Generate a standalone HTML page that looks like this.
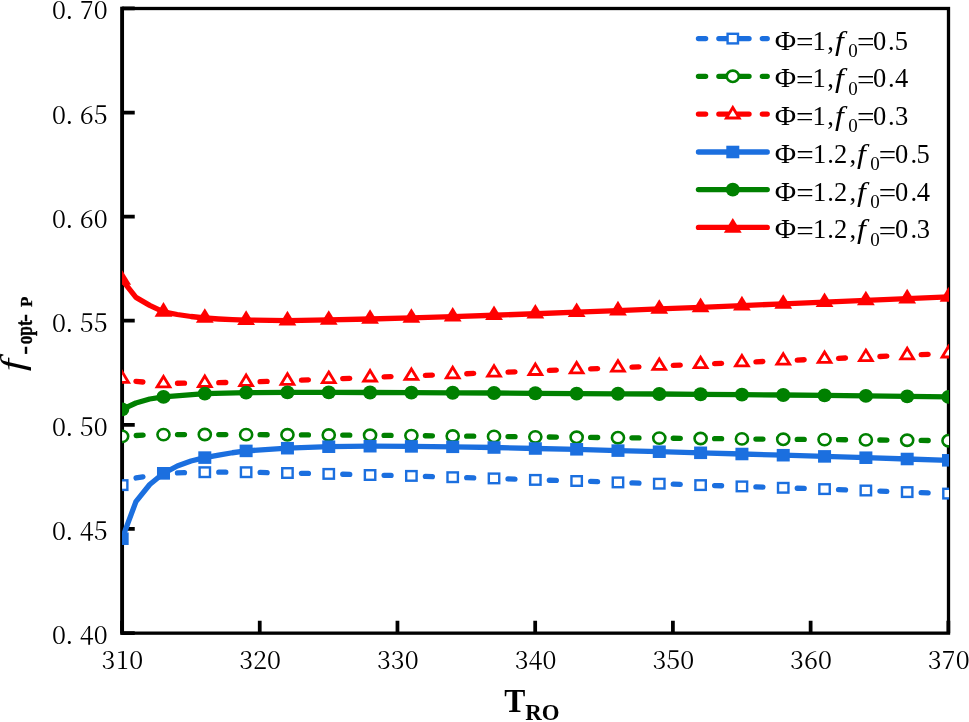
<!DOCTYPE html>
<html lang="en"><head><meta charset="utf-8"><title>f-opt-P vs T RO</title>
<style>
html,body{margin:0;padding:0;background:#fff}
body{width:969px;height:722px;overflow:hidden}
svg{display:block}
.tk{font-family:'Noto Serif CJK SC','Liberation Serif',serif;font-size:25px;font-weight:400;fill:#000}
.lg{font-family:'Liberation Serif',serif;font-size:26.5px;fill:#000}
.sb{font-size:23px;font-weight:bold;stroke:#000;stroke-width:0.45px}
</style></head><body>
<svg width="969" height="722" viewBox="0 0 969 722">
<rect width="969" height="722" fill="#fff"/>
<defs><clipPath id="pc"><rect x="122.05" y="8.5" width="827" height="624.65"/></clipPath></defs>
<rect x="122.17" y="8.5" width="826.33" height="624.65" fill="none" stroke="#000" stroke-width="3.3"/>
<path d="M122.17,6.85 V634.8" stroke="#000" stroke-width="3.74"/>
<path d="M122.17,633.05 h12.57 M122.17,528.94 h12.57 M122.17,424.83 h12.57 M122.17,320.72 h12.57 M122.17,216.62 h12.57 M122.17,112.51 h12.57 M122.17,8.4 h12.57 M122.02,633.15 v-12.35 M259.74,633.15 v-12.35 M397.46,633.15 v-12.35 M535.19,633.15 v-12.35 M672.91,633.15 v-12.35 M810.63,633.15 v-12.35 M948.35,633.15 v-12.35" stroke="#000" stroke-width="3.75" fill="none"/>
<g clip-path="url(#pc)">
<path d="M136.05,477.98 L142.95,476.83 M177.48,472.86 L184.48,472.69 M218.8,472.2 L225.8,472.2 M260.12,472.47 L267.12,472.61 M301.43,473.3 L308.43,473.46 M342.75,474.27 L349.75,474.46 M384.07,475.3 L391.06,475.46 M425.38,476.34 L432.38,476.56 M466.7,477.61 L473.69,477.81 M508.01,478.91 L515,479.16 M549.33,480.27 L556.33,480.46 M590.64,481.47 L597.64,481.71 M631.96,482.84 L638.96,483.06 M673.28,484.17 L680.27,484.41 M714.59,485.54 L721.59,485.76 M755.91,486.87 L762.91,487.11 M797.23,488.24 L804.22,488.46 M838.54,489.57 L845.54,489.81 M879.86,491.04 L886.85,491.31 M921.17,492.61 L928.17,492.86" fill="none" stroke="#1b6fdf" stroke-width="5.3" stroke-linecap="round" stroke-linejoin="round"/>
<rect x="116.97" y="480.3" width="10.4" height="9.6" fill="#fff" stroke="#1b6fdf" stroke-width="2.4"/>
<rect x="158.29" y="468.4" width="10.4" height="9.6" fill="#fff" stroke="#1b6fdf" stroke-width="2.4"/>
<rect x="199.6" y="467.4" width="10.4" height="9.6" fill="#fff" stroke="#1b6fdf" stroke-width="2.4"/>
<rect x="240.92" y="467.4" width="10.4" height="9.6" fill="#fff" stroke="#1b6fdf" stroke-width="2.4"/>
<rect x="282.24" y="468.2" width="10.4" height="9.6" fill="#fff" stroke="#1b6fdf" stroke-width="2.4"/>
<rect x="323.55" y="469.1" width="10.4" height="9.6" fill="#fff" stroke="#1b6fdf" stroke-width="2.4"/>
<rect x="364.87" y="470.2" width="10.4" height="9.6" fill="#fff" stroke="#1b6fdf" stroke-width="2.4"/>
<rect x="406.19" y="471.1" width="10.4" height="9.6" fill="#fff" stroke="#1b6fdf" stroke-width="2.4"/>
<rect x="447.5" y="472.4" width="10.4" height="9.6" fill="#fff" stroke="#1b6fdf" stroke-width="2.4"/>
<rect x="488.82" y="473.6" width="10.4" height="9.6" fill="#fff" stroke="#1b6fdf" stroke-width="2.4"/>
<rect x="530.13" y="475.1" width="10.4" height="9.6" fill="#fff" stroke="#1b6fdf" stroke-width="2.4"/>
<rect x="571.45" y="476.2" width="10.4" height="9.6" fill="#fff" stroke="#1b6fdf" stroke-width="2.4"/>
<rect x="612.77" y="477.6" width="10.4" height="9.6" fill="#fff" stroke="#1b6fdf" stroke-width="2.4"/>
<rect x="654.08" y="478.9" width="10.4" height="9.6" fill="#fff" stroke="#1b6fdf" stroke-width="2.4"/>
<rect x="695.4" y="480.3" width="10.4" height="9.6" fill="#fff" stroke="#1b6fdf" stroke-width="2.4"/>
<rect x="736.72" y="481.6" width="10.4" height="9.6" fill="#fff" stroke="#1b6fdf" stroke-width="2.4"/>
<rect x="778.03" y="483" width="10.4" height="9.6" fill="#fff" stroke="#1b6fdf" stroke-width="2.4"/>
<rect x="819.35" y="484.3" width="10.4" height="9.6" fill="#fff" stroke="#1b6fdf" stroke-width="2.4"/>
<rect x="860.67" y="485.7" width="10.4" height="9.6" fill="#fff" stroke="#1b6fdf" stroke-width="2.4"/>
<rect x="901.98" y="487.3" width="10.4" height="9.6" fill="#fff" stroke="#1b6fdf" stroke-width="2.4"/>
<rect x="943.3" y="488.8" width="10.4" height="9.6" fill="#fff" stroke="#1b6fdf" stroke-width="2.4"/>
<path d="M136.14,435.49 L143.14,435.19 M177.49,434.57 L184.49,434.55 M218.8,434.55 L225.8,434.58 M260.12,434.7 L267.12,434.73 M301.44,434.87 L308.44,434.9 M342.75,435.08 L349.75,435.13 M384.07,435.37 L391.07,435.43 M425.38,435.74 L432.38,435.8 M466.7,436.14 L473.7,436.2 M508.02,436.55 L515.02,436.63 M549.33,437 L556.33,437.08 M590.65,437.44 L597.65,437.5 M631.97,437.84 L638.97,437.9 M673.28,438.24 L680.28,438.3 M714.6,438.64 L721.6,438.7 M755.92,439.04 L762.92,439.1 M797.23,439.4 L804.23,439.45 M838.55,439.7 L845.55,439.75 M879.87,440.02 L886.87,440.08 M921.18,440.4 L928.18,440.48" fill="none" stroke="#008000" stroke-width="5.3" stroke-linecap="round" stroke-linejoin="round"/>
<ellipse cx="122.17" cy="436.35" rx="6.05" ry="5.65" fill="#fff" stroke="#008000" stroke-width="2.6"/>
<ellipse cx="163.49" cy="434.6" rx="6.05" ry="5.65" fill="#fff" stroke="#008000" stroke-width="2.6"/>
<ellipse cx="204.8" cy="434.5" rx="6.05" ry="5.65" fill="#fff" stroke="#008000" stroke-width="2.6"/>
<ellipse cx="246.12" cy="434.65" rx="6.05" ry="5.65" fill="#fff" stroke="#008000" stroke-width="2.6"/>
<ellipse cx="287.44" cy="434.8" rx="6.05" ry="5.65" fill="#fff" stroke="#008000" stroke-width="2.6"/>
<ellipse cx="328.75" cy="435" rx="6.05" ry="5.65" fill="#fff" stroke="#008000" stroke-width="2.6"/>
<ellipse cx="370.07" cy="435.25" rx="6.05" ry="5.65" fill="#fff" stroke="#008000" stroke-width="2.6"/>
<ellipse cx="411.39" cy="435.6" rx="6.05" ry="5.65" fill="#fff" stroke="#008000" stroke-width="2.6"/>
<ellipse cx="452.7" cy="436" rx="6.05" ry="5.65" fill="#fff" stroke="#008000" stroke-width="2.6"/>
<ellipse cx="494.02" cy="436.4" rx="6.05" ry="5.65" fill="#fff" stroke="#008000" stroke-width="2.6"/>
<ellipse cx="535.34" cy="436.85" rx="6.05" ry="5.65" fill="#fff" stroke="#008000" stroke-width="2.6"/>
<ellipse cx="576.65" cy="437.3" rx="6.05" ry="5.65" fill="#fff" stroke="#008000" stroke-width="2.6"/>
<ellipse cx="617.97" cy="437.7" rx="6.05" ry="5.65" fill="#fff" stroke="#008000" stroke-width="2.6"/>
<ellipse cx="659.28" cy="438.1" rx="6.05" ry="5.65" fill="#fff" stroke="#008000" stroke-width="2.6"/>
<ellipse cx="700.6" cy="438.5" rx="6.05" ry="5.65" fill="#fff" stroke="#008000" stroke-width="2.6"/>
<ellipse cx="741.92" cy="438.9" rx="6.05" ry="5.65" fill="#fff" stroke="#008000" stroke-width="2.6"/>
<ellipse cx="783.23" cy="439.3" rx="6.05" ry="5.65" fill="#fff" stroke="#008000" stroke-width="2.6"/>
<ellipse cx="824.55" cy="439.6" rx="6.05" ry="5.65" fill="#fff" stroke="#008000" stroke-width="2.6"/>
<ellipse cx="865.87" cy="439.9" rx="6.05" ry="5.65" fill="#fff" stroke="#008000" stroke-width="2.6"/>
<ellipse cx="907.18" cy="440.25" rx="6.05" ry="5.65" fill="#fff" stroke="#008000" stroke-width="2.6"/>
<ellipse cx="948.5" cy="440.7" rx="6.05" ry="5.65" fill="#fff" stroke="#008000" stroke-width="2.6"/>
<path d="M135.96,381.3 L142.93,382.01 M177.49,383.26 L184.49,383.2 M218.8,382.66 L225.8,382.49 M260.11,381.59 L267.11,381.39 M301.42,380.22 L308.42,379.94 M342.74,378.56 L349.74,378.29 M384.06,376.96 L391.05,376.69 M425.38,375.36 L432.37,375.09 M466.69,373.74 L473.69,373.46 M508.01,372.09 L515,371.81 M549.32,370.46 L556.32,370.19 M590.64,368.82 L597.63,368.54 M631.96,367.11 L638.95,366.81 M673.27,365.36 L680.27,365.06 M714.59,363.59 L721.58,363.29 M755.9,361.81 L762.9,361.51 M797.22,360.06 L804.22,359.76 M838.54,358.29 L845.53,357.99 M879.85,356.49 L886.85,356.19 M921.17,354.69 L928.16,354.39" fill="none" stroke="#ff0000" stroke-width="5.3" stroke-linecap="round" stroke-linejoin="round"/>
<polygon points="122.17,371.9 128.57,382.4 115.77,382.4" fill="#fff" stroke="#ff0000" stroke-width="2.8" stroke-linejoin="miter"/>
<polygon points="163.49,376.4 169.89,386.9 157.09,386.9" fill="#fff" stroke="#ff0000" stroke-width="2.8" stroke-linejoin="miter"/>
<polygon points="204.8,376 211.2,386.5 198.4,386.5" fill="#fff" stroke="#ff0000" stroke-width="2.8" stroke-linejoin="miter"/>
<polygon points="246.12,375 252.52,385.5 239.72,385.5" fill="#fff" stroke="#ff0000" stroke-width="2.8" stroke-linejoin="miter"/>
<polygon points="287.44,373.8 293.84,384.3 281.04,384.3" fill="#fff" stroke="#ff0000" stroke-width="2.8" stroke-linejoin="miter"/>
<polygon points="328.75,372.1 335.15,382.6 322.35,382.6" fill="#fff" stroke="#ff0000" stroke-width="2.8" stroke-linejoin="miter"/>
<polygon points="370.07,370.5 376.47,381 363.67,381" fill="#fff" stroke="#ff0000" stroke-width="2.8" stroke-linejoin="miter"/>
<polygon points="411.39,368.9 417.79,379.4 404.99,379.4" fill="#fff" stroke="#ff0000" stroke-width="2.8" stroke-linejoin="miter"/>
<polygon points="452.7,367.3 459.1,377.8 446.3,377.8" fill="#fff" stroke="#ff0000" stroke-width="2.8" stroke-linejoin="miter"/>
<polygon points="494.02,365.65 500.42,376.15 487.62,376.15" fill="#fff" stroke="#ff0000" stroke-width="2.8" stroke-linejoin="miter"/>
<polygon points="535.34,364 541.74,374.5 528.94,374.5" fill="#fff" stroke="#ff0000" stroke-width="2.8" stroke-linejoin="miter"/>
<polygon points="576.65,362.4 583.05,372.9 570.25,372.9" fill="#fff" stroke="#ff0000" stroke-width="2.8" stroke-linejoin="miter"/>
<polygon points="617.97,360.7 624.37,371.2 611.57,371.2" fill="#fff" stroke="#ff0000" stroke-width="2.8" stroke-linejoin="miter"/>
<polygon points="659.28,358.95 665.68,369.45 652.88,369.45" fill="#fff" stroke="#ff0000" stroke-width="2.8" stroke-linejoin="miter"/>
<polygon points="700.6,357.2 707,367.7 694.2,367.7" fill="#fff" stroke="#ff0000" stroke-width="2.8" stroke-linejoin="miter"/>
<polygon points="741.92,355.4 748.32,365.9 735.52,365.9" fill="#fff" stroke="#ff0000" stroke-width="2.8" stroke-linejoin="miter"/>
<polygon points="783.23,353.65 789.63,364.15 776.83,364.15" fill="#fff" stroke="#ff0000" stroke-width="2.8" stroke-linejoin="miter"/>
<polygon points="824.55,351.9 830.95,362.4 818.15,362.4" fill="#fff" stroke="#ff0000" stroke-width="2.8" stroke-linejoin="miter"/>
<polygon points="865.87,350.1 872.27,360.6 859.47,360.6" fill="#fff" stroke="#ff0000" stroke-width="2.8" stroke-linejoin="miter"/>
<polygon points="907.18,348.3 913.58,358.8 900.78,358.8" fill="#fff" stroke="#ff0000" stroke-width="2.8" stroke-linejoin="miter"/>
<polygon points="948.5,346.5 954.9,357 942.1,357" fill="#fff" stroke="#ff0000" stroke-width="2.8" stroke-linejoin="miter"/>
<path d="M122.17,538.7 L135.94,501.6 L149.71,484.5 L163.49,473.3 L177.26,466 L191.03,461 L204.8,457.6 L218.58,455.1 L232.35,452.75 L246.12,450.9 L287.44,448.2 L328.75,446.7 L370.07,446.2 L411.39,446.4 L452.7,446.8 L494.02,447.5 L535.34,448.5 L576.65,449.3 L617.97,450.6 L659.28,451.7 L700.6,452.8 L741.92,454 L783.23,455.2 L824.55,456.4 L865.87,457.7 L907.18,459 L948.5,460.3" fill="none" stroke="#1b6fdf" stroke-width="5.3" stroke-linejoin="round" stroke-linecap="butt"/>
<rect x="115.67" y="532.43" width="13" height="12.55" fill="#1b6fdf"/>
<rect x="156.99" y="467.03" width="13" height="12.55" fill="#1b6fdf"/>
<rect x="198.3" y="451.33" width="13" height="12.55" fill="#1b6fdf"/>
<rect x="239.62" y="444.62" width="13" height="12.55" fill="#1b6fdf"/>
<rect x="280.94" y="441.93" width="13" height="12.55" fill="#1b6fdf"/>
<rect x="322.25" y="440.43" width="13" height="12.55" fill="#1b6fdf"/>
<rect x="363.57" y="439.93" width="13" height="12.55" fill="#1b6fdf"/>
<rect x="404.89" y="440.12" width="13" height="12.55" fill="#1b6fdf"/>
<rect x="446.2" y="440.53" width="13" height="12.55" fill="#1b6fdf"/>
<rect x="487.52" y="441.23" width="13" height="12.55" fill="#1b6fdf"/>
<rect x="528.84" y="442.23" width="13" height="12.55" fill="#1b6fdf"/>
<rect x="570.15" y="443.03" width="13" height="12.55" fill="#1b6fdf"/>
<rect x="611.47" y="444.33" width="13" height="12.55" fill="#1b6fdf"/>
<rect x="652.78" y="445.43" width="13" height="12.55" fill="#1b6fdf"/>
<rect x="694.1" y="446.53" width="13" height="12.55" fill="#1b6fdf"/>
<rect x="735.42" y="447.73" width="13" height="12.55" fill="#1b6fdf"/>
<rect x="776.73" y="448.93" width="13" height="12.55" fill="#1b6fdf"/>
<rect x="818.05" y="450.12" width="13" height="12.55" fill="#1b6fdf"/>
<rect x="859.37" y="451.43" width="13" height="12.55" fill="#1b6fdf"/>
<rect x="900.68" y="452.73" width="13" height="12.55" fill="#1b6fdf"/>
<rect x="942" y="454.03" width="13" height="12.55" fill="#1b6fdf"/>
<path d="M122.17,409.4 L135.94,403 L149.71,399 L163.49,396.9 L204.8,393.6 L246.12,392.6 L287.44,392.4 L328.75,392.4 L370.07,392.5 L411.39,392.6 L452.7,392.8 L494.02,393 L535.34,393.3 L576.65,393.6 L617.97,393.8 L659.28,394 L700.6,394.3 L741.92,394.6 L783.23,395 L824.55,395.4 L865.87,395.9 L907.18,396.4 L948.5,396.9" fill="none" stroke="#008000" stroke-width="5.3" stroke-linejoin="round" stroke-linecap="butt"/>
<ellipse cx="122.17" cy="409.4" rx="7.1" ry="6.97" fill="#008000"/>
<ellipse cx="163.49" cy="396.9" rx="7.1" ry="6.97" fill="#008000"/>
<ellipse cx="204.8" cy="393.6" rx="7.1" ry="6.97" fill="#008000"/>
<ellipse cx="246.12" cy="392.6" rx="7.1" ry="6.97" fill="#008000"/>
<ellipse cx="287.44" cy="392.4" rx="7.1" ry="6.97" fill="#008000"/>
<ellipse cx="328.75" cy="392.4" rx="7.1" ry="6.97" fill="#008000"/>
<ellipse cx="370.07" cy="392.5" rx="7.1" ry="6.97" fill="#008000"/>
<ellipse cx="411.39" cy="392.6" rx="7.1" ry="6.97" fill="#008000"/>
<ellipse cx="452.7" cy="392.8" rx="7.1" ry="6.97" fill="#008000"/>
<ellipse cx="494.02" cy="393" rx="7.1" ry="6.97" fill="#008000"/>
<ellipse cx="535.34" cy="393.3" rx="7.1" ry="6.97" fill="#008000"/>
<ellipse cx="576.65" cy="393.6" rx="7.1" ry="6.97" fill="#008000"/>
<ellipse cx="617.97" cy="393.8" rx="7.1" ry="6.97" fill="#008000"/>
<ellipse cx="659.28" cy="394" rx="7.1" ry="6.97" fill="#008000"/>
<ellipse cx="700.6" cy="394.3" rx="7.1" ry="6.97" fill="#008000"/>
<ellipse cx="741.92" cy="394.6" rx="7.1" ry="6.97" fill="#008000"/>
<ellipse cx="783.23" cy="395" rx="7.1" ry="6.97" fill="#008000"/>
<ellipse cx="824.55" cy="395.4" rx="7.1" ry="6.97" fill="#008000"/>
<ellipse cx="865.87" cy="395.9" rx="7.1" ry="6.97" fill="#008000"/>
<ellipse cx="907.18" cy="396.4" rx="7.1" ry="6.97" fill="#008000"/>
<ellipse cx="948.5" cy="396.9" rx="7.1" ry="6.97" fill="#008000"/>
<path d="M122.17,279.9 L135.94,297.4 L149.71,305.4 L163.49,311.8 L177.26,314.5 L191.03,316.5 L204.8,318 L218.58,319 L232.35,319.7 L246.12,320.1 L287.44,320.6 L328.75,319.9 L370.07,319 L411.39,317.9 L452.7,316.65 L494.02,315.25 L535.34,313.75 L576.65,312.2 L617.97,310.6 L659.28,308.95 L700.6,307.3 L741.92,305.6 L783.23,303.9 L824.55,302.15 L865.87,300.4 L907.18,298.6 L948.5,296.8" fill="none" stroke="#ff0000" stroke-width="5.3" stroke-linejoin="round" stroke-linecap="butt"/>
<polygon points="122.17,270.17 131.07,284.77 113.27,284.77" fill="#ff0000"/>
<polygon points="163.49,302.07 172.39,316.67 154.59,316.67" fill="#ff0000"/>
<polygon points="204.8,308.27 213.7,322.87 195.9,322.87" fill="#ff0000"/>
<polygon points="246.12,310.37 255.02,324.97 237.22,324.97" fill="#ff0000"/>
<polygon points="287.44,310.87 296.34,325.47 278.54,325.47" fill="#ff0000"/>
<polygon points="328.75,310.17 337.65,324.77 319.85,324.77" fill="#ff0000"/>
<polygon points="370.07,309.27 378.97,323.87 361.17,323.87" fill="#ff0000"/>
<polygon points="411.39,308.17 420.29,322.77 402.49,322.77" fill="#ff0000"/>
<polygon points="452.7,306.92 461.6,321.52 443.8,321.52" fill="#ff0000"/>
<polygon points="494.02,305.52 502.92,320.12 485.12,320.12" fill="#ff0000"/>
<polygon points="535.34,304.02 544.24,318.62 526.44,318.62" fill="#ff0000"/>
<polygon points="576.65,302.47 585.55,317.07 567.75,317.07" fill="#ff0000"/>
<polygon points="617.97,300.87 626.87,315.47 609.07,315.47" fill="#ff0000"/>
<polygon points="659.28,299.22 668.18,313.82 650.38,313.82" fill="#ff0000"/>
<polygon points="700.6,297.57 709.5,312.17 691.7,312.17" fill="#ff0000"/>
<polygon points="741.92,295.87 750.82,310.47 733.02,310.47" fill="#ff0000"/>
<polygon points="783.23,294.17 792.13,308.77 774.33,308.77" fill="#ff0000"/>
<polygon points="824.55,292.42 833.45,307.02 815.65,307.02" fill="#ff0000"/>
<polygon points="865.87,290.67 874.77,305.27 856.97,305.27" fill="#ff0000"/>
<polygon points="907.18,288.87 916.08,303.47 898.28,303.47" fill="#ff0000"/>
<polygon points="948.5,287.07 957.4,301.67 939.6,301.67" fill="#ff0000"/>
</g>
<text class="tk" text-anchor="middle" x="58.95 69.35 86.75 100.65" y="644.05">0.40</text>
<text class="tk" text-anchor="middle" x="58.95 69.35 86.75 100.65" y="539.94">0.45</text>
<text class="tk" text-anchor="middle" x="58.95 69.35 86.75 100.65" y="435.83">0.50</text>
<text class="tk" text-anchor="middle" x="58.95 69.35 86.75 100.65" y="331.72">0.55</text>
<text class="tk" text-anchor="middle" x="58.95 69.35 86.75 100.65" y="227.62">0.60</text>
<text class="tk" text-anchor="middle" x="58.95 69.35 86.75 100.65" y="123.51">0.65</text>
<text class="tk" text-anchor="middle" x="58.95 69.35 86.75 100.65" y="19.4">0.70</text>
<text class="tk" text-anchor="middle" x="108.47 122.37 136.27" y="669.4">310</text>
<text class="tk" text-anchor="middle" x="246.19 260.09 273.99" y="669.4">320</text>
<text class="tk" text-anchor="middle" x="383.91 397.81 411.71" y="669.4">330</text>
<text class="tk" text-anchor="middle" x="521.64 535.54 549.44" y="669.4">340</text>
<text class="tk" text-anchor="middle" x="659.36 673.26 687.16" y="669.4">350</text>
<text class="tk" text-anchor="middle" x="797.08 810.98 824.88" y="669.4">360</text>
<text class="tk" text-anchor="middle" x="934.8 948.7 962.6" y="669.4">370</text>
<text y="711.9" style="font-family:'Liberation Serif',serif;font-weight:bold;font-size:34px"><tspan x="504.2" textLength="21.1" lengthAdjust="spacingAndGlyphs">T</tspan><tspan x="525.3" dy="8.5" style="font-size:23.5px" textLength="34.3" lengthAdjust="spacingAndGlyphs">RO</tspan></text>
<text transform="translate(23.6,371.2) rotate(-90)" style="font-family:'Liberation Serif',serif;font-size:34px"><tspan x="0" style="font-style:italic" textLength="12.4" lengthAdjust="spacingAndGlyphs">f</tspan><tspan x="16.4" dy="8.3" class="sb" textLength="8.8" lengthAdjust="spacingAndGlyphs">-</tspan><tspan x="27.0" class="sb" textLength="23.8" lengthAdjust="spacingAndGlyphs">opt</tspan><tspan x="49.4" class="sb">-</tspan><tspan x="64.1" style="font-size:17px;font-weight:bold;stroke:#000;stroke-width:0.3px">P</tspan></text>
<path d="M698.45,38.6 H705.65 M718.85,38.6 H728 M737.5,38.6 H749.05 M762.35,38.6 H767.25" stroke="#1b6fdf" stroke-width="5.3" stroke-linecap="round"/>
<rect x="727.6" y="33.8" width="10.4" height="9.6" fill="#fff" stroke="#1b6fdf" stroke-width="2.4"/>
<text class="lg" y="49.5"><tspan x="774.82" textLength="21.39" lengthAdjust="spacingAndGlyphs">Φ</tspan><tspan x="796.06" dy="1.3" textLength="17.51" lengthAdjust="spacingAndGlyphs">=</tspan><tspan x="812.51" dy="-1.3">1</tspan><tspan x="827.29">,</tspan><tspan x="834.92" style="font-style:italic;font-size:27.5px" textLength="8.81" lengthAdjust="spacingAndGlyphs">f</tspan><tspan x="848.25" dy="7.3" style="font-size:19px">0</tspan><tspan x="857.06" dy="-6" textLength="17.51" lengthAdjust="spacingAndGlyphs">=</tspan><tspan x="873.02" dy="-1.3">0</tspan><tspan x="888.04">.</tspan><tspan x="894.76">5</tspan></text>
<path d="M698.45,76.3 H705.65 M718.85,76.3 H728 M737.5,76.3 H749.05 M762.35,76.3 H767.25" stroke="#008000" stroke-width="5.3" stroke-linecap="round"/>
<ellipse cx="732.8" cy="76.3" rx="6.05" ry="5.65" fill="#fff" stroke="#008000" stroke-width="2.6"/>
<text class="lg" y="87.2"><tspan x="774.82" textLength="21.39" lengthAdjust="spacingAndGlyphs">Φ</tspan><tspan x="796.06" dy="1.3" textLength="17.51" lengthAdjust="spacingAndGlyphs">=</tspan><tspan x="812.51" dy="-1.3">1</tspan><tspan x="827.29">,</tspan><tspan x="834.92" style="font-style:italic;font-size:27.5px" textLength="8.81" lengthAdjust="spacingAndGlyphs">f</tspan><tspan x="848.25" dy="7.3" style="font-size:19px">0</tspan><tspan x="857.06" dy="-6" textLength="17.51" lengthAdjust="spacingAndGlyphs">=</tspan><tspan x="873.02" dy="-1.3">0</tspan><tspan x="888.04">.</tspan><tspan x="895.02">4</tspan></text>
<path d="M698.45,114.1 H705.65 M718.85,114.1 H728 M737.5,114.1 H749.05 M762.35,114.1 H767.25" stroke="#ff0000" stroke-width="5.3" stroke-linecap="round"/>
<polygon points="732.8,107.5 739.2,118 726.4,118" fill="#fff" stroke="#ff0000" stroke-width="2.8" stroke-linejoin="miter"/>
<text class="lg" y="125"><tspan x="774.82" textLength="21.39" lengthAdjust="spacingAndGlyphs">Φ</tspan><tspan x="796.06" dy="1.3" textLength="17.51" lengthAdjust="spacingAndGlyphs">=</tspan><tspan x="812.51" dy="-1.3">1</tspan><tspan x="827.29">,</tspan><tspan x="834.92" style="font-style:italic;font-size:27.5px" textLength="8.81" lengthAdjust="spacingAndGlyphs">f</tspan><tspan x="848.25" dy="7.3" style="font-size:19px">0</tspan><tspan x="857.06" dy="-6" textLength="17.51" lengthAdjust="spacingAndGlyphs">=</tspan><tspan x="873.02" dy="-1.3">0</tspan><tspan x="888.04">.</tspan><tspan x="894.89">3</tspan></text>
<path d="M698.45,152.0 H767.25" stroke="#1b6fdf" stroke-width="5.3" stroke-linecap="round"/>
<rect x="726.3" y="145.72" width="13" height="12.55" fill="#1b6fdf"/>
<text class="lg" y="162.9"><tspan x="774.82" textLength="21.39" lengthAdjust="spacingAndGlyphs">Φ</tspan><tspan x="796.16" dy="1.3" textLength="17.51" lengthAdjust="spacingAndGlyphs">=</tspan><tspan x="813.11" dy="-1.3">1</tspan><tspan x="827.34">.</tspan><tspan x="834.11">2</tspan><tspan x="849.49">,</tspan><tspan x="857.07" style="font-style:italic;font-size:27.5px" textLength="8.81" lengthAdjust="spacingAndGlyphs">f</tspan><tspan x="870.35" dy="7.3" style="font-size:19px">0</tspan><tspan x="878.77" dy="-6" textLength="17.39" lengthAdjust="spacingAndGlyphs">=</tspan><tspan x="895.12" dy="-1.3">0</tspan><tspan x="910.39">.</tspan><tspan x="916.56">5</tspan></text>
<path d="M698.45,189.6 H767.25" stroke="#008000" stroke-width="5.3" stroke-linecap="round"/>
<ellipse cx="732.8" cy="189.6" rx="7.1" ry="6.97" fill="#008000"/>
<text class="lg" y="200.5"><tspan x="774.82" textLength="21.39" lengthAdjust="spacingAndGlyphs">Φ</tspan><tspan x="796.16" dy="1.3" textLength="17.51" lengthAdjust="spacingAndGlyphs">=</tspan><tspan x="813.11" dy="-1.3">1</tspan><tspan x="827.34">.</tspan><tspan x="834.11">2</tspan><tspan x="849.49">,</tspan><tspan x="857.07" style="font-style:italic;font-size:27.5px" textLength="8.81" lengthAdjust="spacingAndGlyphs">f</tspan><tspan x="870.35" dy="7.3" style="font-size:19px">0</tspan><tspan x="878.77" dy="-6" textLength="17.39" lengthAdjust="spacingAndGlyphs">=</tspan><tspan x="895.12" dy="-1.3">0</tspan><tspan x="910.39">.</tspan><tspan x="916.83">4</tspan></text>
<path d="M698.45,227.4 H767.25" stroke="#ff0000" stroke-width="5.3" stroke-linecap="round"/>
<polygon points="732.8,218.07 741.7,232.67 723.9,232.67" fill="#ff0000"/>
<text class="lg" y="238.3"><tspan x="774.82" textLength="21.39" lengthAdjust="spacingAndGlyphs">Φ</tspan><tspan x="796.16" dy="1.3" textLength="17.51" lengthAdjust="spacingAndGlyphs">=</tspan><tspan x="813.11" dy="-1.3">1</tspan><tspan x="827.34">.</tspan><tspan x="834.11">2</tspan><tspan x="849.49">,</tspan><tspan x="857.07" style="font-style:italic;font-size:27.5px" textLength="8.81" lengthAdjust="spacingAndGlyphs">f</tspan><tspan x="870.35" dy="7.3" style="font-size:19px">0</tspan><tspan x="878.77" dy="-6" textLength="17.39" lengthAdjust="spacingAndGlyphs">=</tspan><tspan x="895.12" dy="-1.3">0</tspan><tspan x="910.39">.</tspan><tspan x="916.69">3</tspan></text>
</svg>
</body></html>
